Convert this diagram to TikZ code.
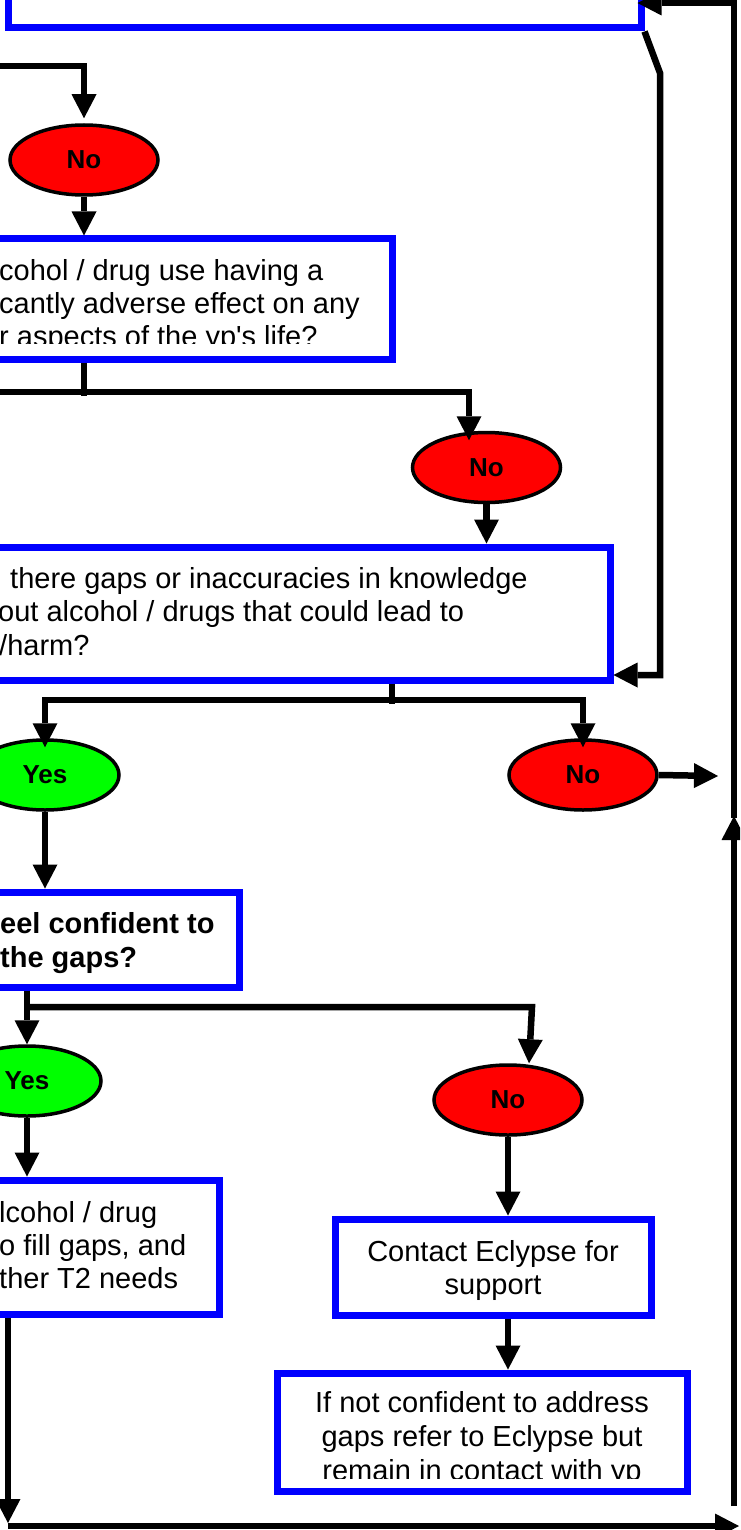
\documentclass[tikz,border=0pt]{standalone}
\usepackage{fontspec}
\setmainfont{Liberation Sans}
\usetikzlibrary{arrows.meta,shapes.geometric,fit,calc}

\definecolor{boxblue}{RGB}{0,0,255}
\definecolor{nored}{RGB}{255,0,0}
\definecolor{yesgreen}{RGB}{0,255,0}

\tikzset{
  qbox/.style={draw=boxblue, line width=7pt, fill=white, inner sep=0pt},
  answer/.style={ellipse, draw=black, line width=3.5pt, inner sep=0pt,
    minimum width=148pt, minimum height=70pt,
    font=\bfseries\fontsize{26}{30}\selectfont},
  yesoval/.style={answer, fill=yesgreen},
  nooval/.style={answer, fill=nored},
  txt/.style={inner sep=0pt, font=\fontsize{29}{34}\selectfont},
  btxt/.style={txt, font=\bfseries\fontsize{29}{34}\selectfont},
  wire/.style={line width=6.5pt},
  conn/.style={wire, -{Triangle[length=24pt,width=25pt,line width=0pt]}}
}

\begin{document}
\begin{tikzpicture}[x=1pt,y=-1pt]
\useasboundingbox (0,0) rectangle (740,1530);
\clip (0,0) rectangle (740,1530);

% question boxes
\node[qbox, fit={(8.5,-200) (641,28)}] (q1) {};
\node[qbox, fit={(-300,239) (392,359)}] (q2) {};
\node[qbox, fit={(-300,547) (610,680)}] (q3) {};
\node[qbox, fit={(-300,892) (239,987)}] (q4) {};
\node[qbox, fit={(-300,1180) (219,1314)}] (q5) {};
\node[qbox, fit={(335,1219) (651,1315)}] (q6) {};
\node[qbox, fit={(277,1373) (687,1491)}] (q7) {};

% box texts
\begin{scope}
\clip (-10,245) rectangle (388,343.5);
\foreach \t [count=\i] in {{cohol / drug use having a},{cantly adverse effect on any},{r aspects of the yp\textquotesingle s life?}}
  \node[txt, anchor=base west] (q2t\i) at (-1,{280+33.3*(\i-1)}) {\t};
\end{scope}
\node[txt, anchor=base west] (q3t1) at (10,588) {there gaps or inaccuracies in knowledge};
\node[txt, anchor=base west] (q3t2) at (-2,621.5) {out alcohol / drugs that could lead to};
\node[txt, anchor=base west] (q3t3) at (-1,655) {/harm?};
\node[btxt, anchor=base west] (q4t1) at (0,933) {eel confident to};
\node[btxt, anchor=base west] (q4t2) at (0,967) {the gaps?};
\foreach \t [count=\i] in {{lcohol / drug},{o fill gaps, and},{ther T2 needs}}
  \node[txt, anchor=base west] (q5t\i) at (-1,{1222+33*(\i-1)}) {\t};
\node[txt, anchor=base] (q6t1) at (493,1261) {Contact Eclypse for};
\node[txt, anchor=base] (q6t2) at (493,1294) {support};
\begin{scope}
\clip (280,1376) rectangle (684,1478);
\foreach \t [count=\i] in {{If not confident to address},{gaps refer to Eclypse but},{remain in contact with yp}}
  \node[txt, anchor=base] (q7t\i) at (482,{1412+34*(\i-1)}) {\t};
\end{scope}

% answers
\node[nooval] (e1) at (84,160) {No};
\node[nooval] (e2) at (486.5,467.5) {No};
\node[yesoval] (e3) at (45,775) {Yes};
\node[nooval] (e4) at (583,775) {No};
\node[yesoval] (e5) at (27,1081) {Yes};
\node[nooval] (e6) at (508,1100) {No};

% connectors
\coordinate (a0) at (-10,66);
\draw[conn, shorten >=5pt] (a0) -| (e1.north);
\draw[conn] (e1.south) -- (e1.south |- q2.north);
\coordinate (k2) at (84,392);
\draw[wire] (k2 |- q2.south) -- ($(k2)+(0,3.5)$);
\coordinate (a1) at (-10,392);
\draw[conn] (a1) -| ($(e2.north)+(-17.5,9.5)$);
\draw[conn] (e2.south) -- (e2.south |- q3.north);
\coordinate (k3) at (392,700);
\draw[wire] (k3 |- q3.south) -- ($(k3)+(0,3.5)$);
\draw[conn, shorten >=-9pt] (k3) -| (e3.north);
\draw[conn, shorten >=-9pt] (k3) -| (e4.north);
\draw[conn] (e3.south) -- (e3.south |- q4.north);
\coordinate (r0) at (718,776);
\draw[conn] (e4.east) -- (r0);
\draw[conn] (q4.south -| e5) -- (e5.north);
\coordinate (k4) at (27,1007);
\coordinate (k5) at (532,1007);
\draw[conn] (k4) -- (k5) -- ($(e6.north)+(21,0)$);
\draw[conn] (e5.south) -- (e5.south |- q5.north);
\coordinate (b1) at (8,1526);
\coordinate (b2) at (739,1526);
\draw[conn] (q5.south -| b1) -- ($(b1)+(0,-3)$);
\draw[conn] (b1) -- (b2);
\draw[conn] (e6.south) -- (e6.south |- q6.north);
\draw[conn] (q6.south -| e6) -- (q7.north -| e6);

% right hand loops
\coordinate (k1) at (660,73);
\draw[conn] (q1.south east) -- (k1) |- ($(q3.south east)+(0,-8.5)$);
\coordinate (r1) at (734,818);
\draw[conn, shorten >=-7pt] (r1) |- (q1.east |- 0,3);
\coordinate (r2) at (734,1506);
\coordinate (r3) at (734,816);
\draw[conn] (r2) -- (r3);
\end{tikzpicture}
\end{document}
